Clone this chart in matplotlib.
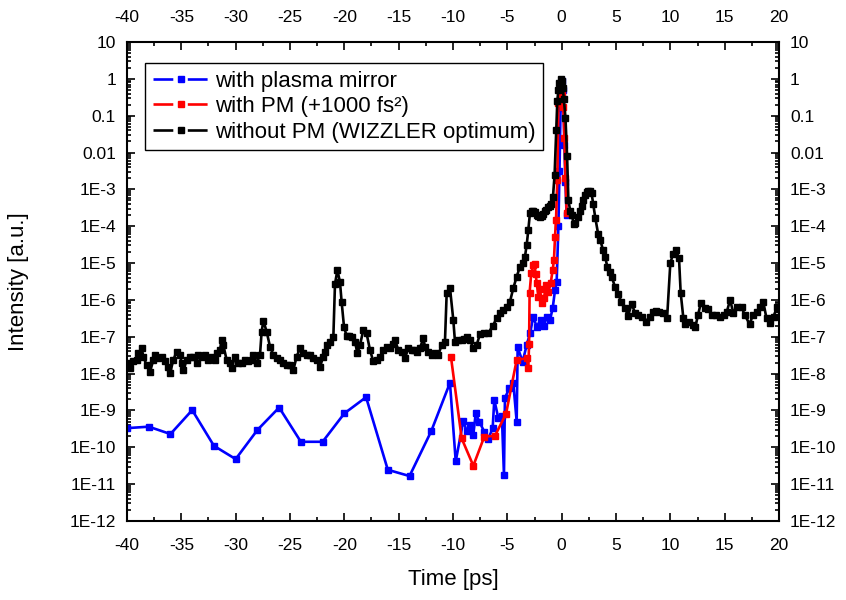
import numpy as np
import matplotlib
matplotlib.use("Agg")
import matplotlib.pyplot as plt
from matplotlib.lines import Line2D
from matplotlib.ticker import MultipleLocator, LogLocator, NullFormatter

plt.rcParams['font.family'] = ['Liberation Sans', 'DejaVu Sans']

# ---------------- data (time in ps, log10 of intensity) ----------------
blue_t = [-40, -38, -36, -34, -32, -30, -28, -26, -24, -22, -20, -18, -16, -14, -12, -10.28,
          -9.75, -9.05, -8.74, -8.44, -8.13, -7.91, -7.58, -7.12, -6.75, -6.35, -6.2, -5.83,
          -5.5, -5.31, -5.22, -4.82, -4.45, -4.14, -4.05, -3.59, -3.22, -2.9, -2.61, -2.3,
          -1.94, -1.63, -1.38, -1.07, -0.83, -0.61, -0.46, -0.3, -0.2, -0.1, 0.0, 0.15, 0.25,
          0.35, 0.45]
blue_log = [-9.48, -9.44, -9.64, -8.99, -9.96, -10.32, -9.53, -8.92, -9.85, -9.85, -9.08,
            -8.64, -10.61, -10.78, -9.56, -8.25,
            -10.38, -9.28, -9.57, -9.39, -9.66, -9.08, -9.30, -9.58, -9.77, -9.48, -8.71, -9.21,
            -9.15, -10.75, -8.66, -8.40, -8.26, -9.30, -7.29, -7.68, -7.22, -6.9, -6.45, -6.73,
            -6.54, -6.71, -6.45, -6.54, -6.23, -5.73, -5.5, -4.0, -2.5, -0.8, -0.05, -0.3, -1.8,
            -2.8, -3.7]

red_t = [-10.19, -9.2, -8.13, -7.12, -6.14, -5.12, -4.14, -3.22, -3.07, -3.0, -2.95, -2.8,
         -2.6, -2.49, -2.4, -2.29, -2.14, -2.0, -1.83, -1.63, -1.45, -1.23, -1.01, -0.83,
         -0.71, -0.61, -0.52, -0.4, -0.3, -0.15, 0.0, 0.15, 0.25, 0.35, 0.46]
red_log = [-7.54, -9.76, -10.5, -9.71, -9.69, -9.09, -7.63, -7.58, -7.86, -7.2, -5.8, -5.28,
           -5.05, -5.03, -5.3, -5.55, -5.91, -5.7, -6.09, -5.96, -5.59, -5.78, -5.55, -5.19,
           -4.92, -4.28, -3.83, -2.74, -0.66, -0.3, -0.45, -0.76, -1.6, -2.7, -3.65]

black_t = [-40.0, -39.72, -39.42, -39.11, -38.96, -38.65, -38.5, -38.19, -37.88, -37.58,
           -37.42, -37.12, -36.81, -36.5, -36.2, -36.04, -35.74, -35.43, -35.12, -34.97,
           -34.82, -34.51, -34.2, -33.9, -33.59, -33.44, -33.13, -32.82, -32.52, -32.21,
           -31.9, -31.75, -31.44, -31.29, -31.14, -30.83, -30.52, -30.37, -30.06, -29.76,
           -29.45, -29.14, -28.83, -28.53, -28.37, -28.07, -27.76, -27.61, -27.45, -27.15,
           -26.84, -26.53, -26.23, -25.92, -25.62, -25.3, -25.0, -24.69, -24.39, -24.08,
           -23.77, -23.47, -23.16, -22.85, -22.55, -22.24, -21.93, -21.78, -21.63, -21.32,
           -21.01, -20.86, -20.64, -20.4, -20.25, -20.03, -19.79, -19.55, -19.33, -19.02,
           -18.8, -18.56, -18.25, -17.95, -17.64, -17.33, -17.03, -16.72, -16.41, -16.1,
           -15.8, -15.55, -15.34, -15.03, -14.72, -14.42, -14.11, -13.8, -13.55, -13.34,
           -13.04, -12.73, -12.58, -12.27, -11.96, -11.66, -11.35, -11.04, -10.74, -10.58,
           -10.28, -9.97, -9.82, -9.51, -9.2, -8.95, -8.74, -8.44, -8.13, -7.82, -7.52,
           -7.15, -6.75, -6.35, -5.98, -5.68, -5.37, -5.06, -4.76, -4.45, -4.14, -3.84,
           -3.6, -3.38, -3.22, -3.07, -2.92, -2.75, -2.6, -2.45, -2.3, -2.15, -2.0, -1.85,
           -1.7, -1.55, -1.4, -1.25, -1.1, -0.95, -0.8, -0.65, -0.5, -0.4, -0.3, -0.2, -0.1,
           0.0, 0.1, 0.2, 0.35, 0.5, 0.62, 0.8, 0.95, 1.1, 1.25, 1.5, 1.7, 1.85, 2.0, 2.15,
           2.3, 2.45, 2.6, 2.75, 2.9, 3.1, 3.35, 3.55, 3.8, 4.0, 4.2, 4.45, 4.6, 4.9, 5.2,
           5.5, 5.85, 6.1, 6.45, 6.75, 7.05, 7.4, 7.75, 8.1, 8.4, 8.7, 9.0, 9.35, 9.7, 10.0,
           10.25, 10.5, 10.8, 10.95, 11.2, 11.35, 11.7, 12.05, 12.3, 12.55, 12.8, 13.2, 13.5,
           13.8, 14.2, 14.55, 14.9, 15.2, 15.5, 15.8, 16.1, 16.55, 16.85, 17.3, 17.6, 17.95,
           18.25, 18.55, 18.85, 19.15, 19.5, 19.8, 20.0]
black_log = [-7.72, -7.86, -7.67, -7.63, -7.45, -7.31, -7.54, -7.77, -7.95, -7.63,
             -7.49, -7.58, -7.54, -7.67, -7.81, -7.99, -7.63, -7.40, -7.49, -7.72,
             -7.90, -7.63, -7.54, -7.54, -7.72, -7.49, -7.54, -7.49, -7.63, -7.54,
             -7.63, -7.45, -7.36, -7.09, -7.22, -7.63, -7.72, -7.86, -7.54, -7.72,
             -7.72, -7.63, -7.67, -7.63, -7.49, -7.72, -7.49, -6.86, -6.57, -6.86,
             -7.27, -7.49, -7.58, -7.63, -7.72, -7.77, -7.77, -7.90, -7.54, -7.31,
             -7.45, -7.49, -7.49, -7.58, -7.63, -7.81, -7.54, -7.40, -7.22, -7.13,
             -7.0, -5.57, -5.19, -5.52, -6.05, -6.73, -6.98, -6.98, -7.0, -7.13,
             -7.45, -7.22, -6.82, -6.91, -7.36, -7.67, -7.63, -7.54, -7.36, -7.27,
             -7.31, -7.2, -7.09, -7.36, -7.40, -7.58, -7.31, -7.36, -7.36, -7.40,
             -7.31, -7.04, -7.27, -7.40, -7.49, -7.45, -7.49, -7.22, -7.13, -5.80,
             -5.67, -6.55, -7.13, -7.09, -7.09, -7.05, -7.0, -7.09, -7.31, -7.22, -6.93,
             -6.9, -6.9, -6.71, -6.5, -6.36, -6.27, -6.18, -6.05, -5.68, -5.37, -5.1,
             -5.0, -4.83, -4.51, -4.1, -3.65, -3.58, -3.6, -3.62, -3.7, -3.72, -3.75, -3.72,
             -3.68, -3.6, -3.55, -3.48, -3.45, -3.4, -3.2, -2.6, -1.4, -0.6, -0.3, -0.1, 0.0,
             -0.05, -0.25, -0.55, -1.05, -2.1, -3.3, -3.6, -3.7, -3.95, -3.92, -3.75, -3.6,
             -3.45, -3.3, -3.15, -3.06, -3.05, -3.05, -3.1, -3.4, -3.78, -4.2, -4.37, -4.64,
             -4.83, -5.1, -5.23, -5.37, -5.64, -5.85, -6.05, -6.23, -6.44, -6.1, -6.36,
             -6.41, -6.45, -6.59, -6.45, -6.32, -6.3, -6.32, -6.36, -6.5, -5.0, -4.75, -4.64,
             -4.87, -5.8, -6.5, -6.66, -6.6, -6.68, -6.73, -6.41, -6.09, -6.23, -6.25, -6.41,
             -6.4, -6.45, -6.4, -6.32, -6.0, -6.36, -6.18, -6.2, -6.41, -6.66, -6.4, -6.32,
             -6.18, -6.05, -6.5, -6.63, -6.45, -6.2, -6.25]

labels = ["with plasma mirror", "with PM (+1000 fs\u00b2)", "without PM (WIZZLER optimum)"]
colors = ["#0000ff", "#ff0000", "#000000"]

x_ticks = list(range(-40, 21, 5))
y_exp = list(range(-12, 2))
y_labels = ["1E-12", "1E-11", "1E-10", "1E-9", "1E-8", "1E-7", "1E-6", "1E-5", "1E-4",
            "1E-3", "0.01", "0.1", "1", "10"]

# ---------------- figure ----------------
fig = plt.figure(figsize=(8.46, 6.0), dpi=100)
ax = fig.add_axes([127 / 846, 1 - 521 / 600, 652 / 846, 479 / 600])

LW = 1.9
MS = 4.3
series = [(blue_t, blue_log), (red_t, red_log), (black_t, black_log)]
for (t, lg), c in zip(series, colors):
    ax.plot(t, 10.0 ** np.array(lg), color=c, lw=LW, marker='s', ms=MS,
            mec=c, mfc=c, solid_joinstyle='round')

ax.set_yscale('log')
ax.set_xlim(-40, 20)
ax.set_ylim(1e-12, 10)
ax.set_xticks(x_ticks)
ax.set_xticklabels([str(v) for v in x_ticks])
ax.xaxis.set_minor_locator(MultipleLocator(2.5))
ax.set_yticks([10.0 ** e for e in y_exp])
ax.set_yticklabels(y_labels)
ax.yaxis.set_minor_locator(LogLocator(base=10, subs=np.arange(2, 10), numticks=100))
ax.yaxis.set_minor_formatter(NullFormatter())

ax.tick_params(which='both', direction='in', top=True, right=True,
               labeltop=True, labelright=True, labelsize=12.5, width=1.2)
ax.tick_params(which='major', length=6)
ax.tick_params(which='minor', length=3)
ax.tick_params(axis='x', which='major', pad=12)
ax.tick_params(axis='y', which='major', pad=8)
for s in ax.spines.values():
    s.set_linewidth(1.5)

ax.set_xlabel("Time [ps]", fontsize=16)
ax.set_ylabel("Intensity [a.u.]", fontsize=16)
ax.xaxis.set_label_coords(0.5, -(580 - 521) / 479, transform=ax.transAxes)
ax.yaxis.set_label_coords(-(127 - 18) / 652, 0.5, transform=ax.transAxes)
ax.xaxis.label.set_va('center')
ax.yaxis.label.set_va('center')

handles = [Line2D([0], [0], color=c, lw=LW, linestyle=(0, (7.5, 5.5)), marker='s', ms=MS,
                  mec=c, mfc=c) for c in colors]
leg = ax.legend(handles, labels, loc='upper left', bbox_to_anchor=(145 / 846, 1 - 63 / 600),
                bbox_transform=fig.transFigure, borderaxespad=0, fontsize=16,
                numpoints=1, handlelength=2.5, handletextpad=0.3, labelspacing=0.2,
                borderpad=0.35, fancybox=False, framealpha=1, edgecolor='black')
leg.get_frame().set_linewidth(1.0)

fig.savefig("out.png", dpi=100)
